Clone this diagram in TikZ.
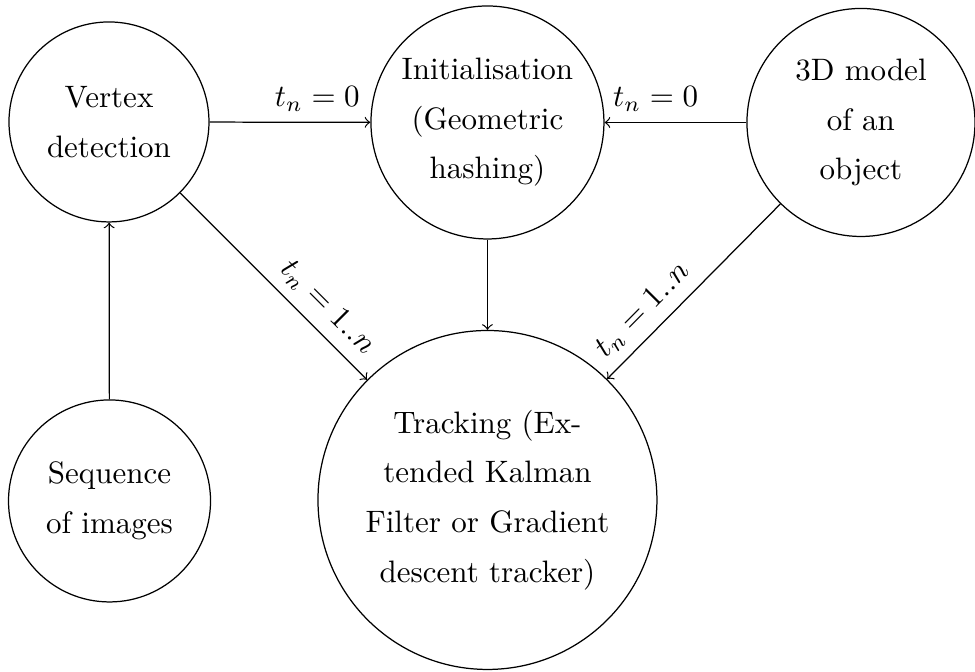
\documentclass[tikz,border=0pt]{standalone}
\usepackage{tikz}
\usepackage{amsmath}

\begin{document}
\begin{tikzpicture}[blob/.style={draw,circle,align=center,inner sep=0pt,font=\fontsize{10}{16}\selectfont}]
    \useasboundingbox (0,0) rectangle (11.057,7.620);
    \node[blob,minimum size=2.268cm] (vtx) at (1.236,6.237) {Vertex\\detection};
    \node[blob,minimum size=2.642cm] (init) at (5.528,6.231) {Initialisation\\(Geometric\\hashing)};
    \node[blob,minimum size=2.586cm] (model) at (9.764,6.231) {3D model\\of an\\object};
    \node[blob,minimum size=2.291cm] (seq) at (1.242,1.939) {Sequence\\of images};
    \node[blob,minimum size=3.844cm] (track) at (5.528,1.950) {Tracking (Ex-\\tended Kalman\\Filter or Gradient\\descent tracker)};
    \draw[->] (vtx) -- node[pos=.67,above]{$t_n = 0$} (init);
    \draw[->] (model) -- node[pos=.64,above]{$t_n = 0$} (init);
    \draw[->] (seq) -- (vtx);
    \draw[->] (init) -- (track);
    \draw[->] (vtx) -- node[pos=.7,above,sloped]{$t_n = 1..n$} (track);
    \draw[->] (model) -- node[pos=.7,above,sloped]{$t_n = 1..n$} (track);
\end{tikzpicture}
\end{document}
